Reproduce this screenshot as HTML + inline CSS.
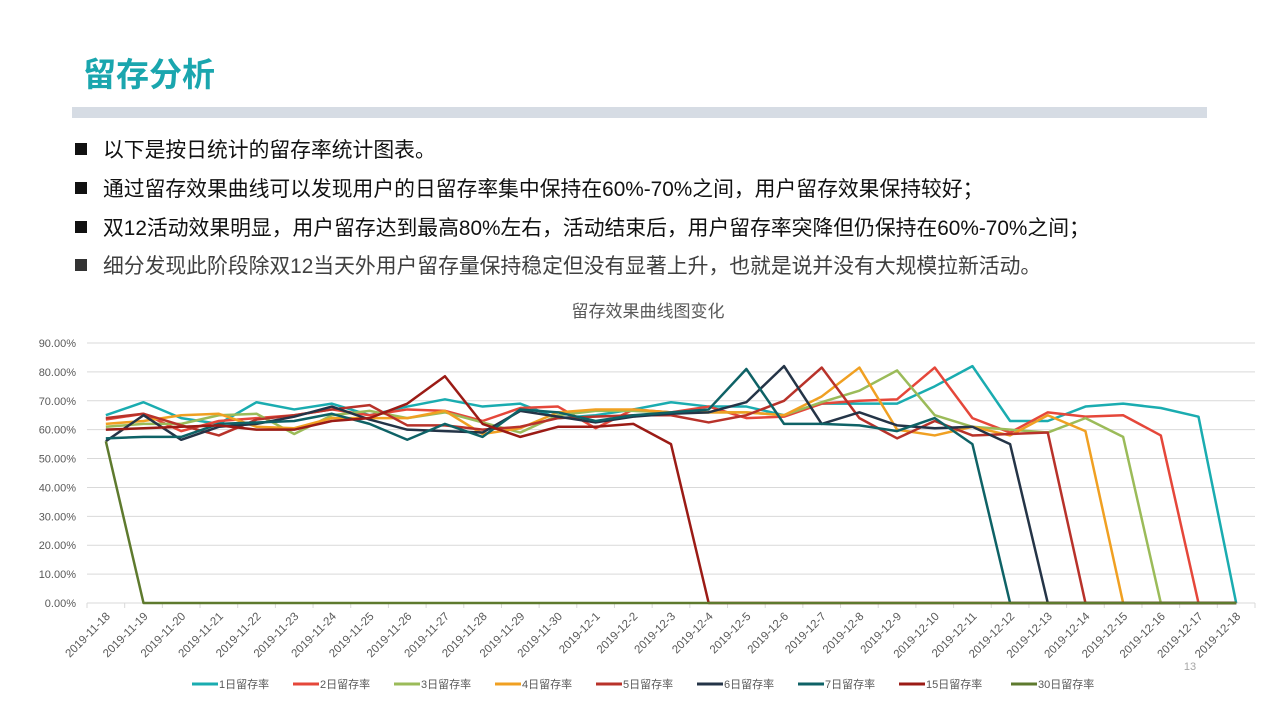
<!DOCTYPE html>
<html><head><meta charset="utf-8"><style>
body{margin:0;width:1280px;height:720px;background:#fff;font-family:"Liberation Sans","Noto Sans CJK SC",sans-serif;overflow:hidden;position:relative}
.t{position:absolute;left:83px;top:48px;font-size:33px;font-weight:bold;color:#1AA6AE}
.bar{position:absolute;left:72px;top:107px;width:1135px;height:11px;background:#D6DCE4}
.b{position:absolute;left:75px;font-size:20.8px;color:#111;white-space:nowrap}
.b span{display:inline-block;width:12px;height:12px;background:#111;margin-right:16px;vertical-align:2px}
</style></head><body>
<div class="t">留存分析</div>
<div class="bar"></div>
<div class="b" style="top:133px"><span></span>以下是按日统计的留存率统计图表。</div>
<div class="b" style="top:172px"><span></span>通过留存效果曲线可以发现用户的日留存率集中保持在60%-70%之间，用户留存效果保持较好；</div>
<div class="b" style="top:211px"><span></span>双12活动效果明显，用户留存达到最高80%左右，活动结束后，用户留存率突降但仍保持在60%-70%之间；</div>
<div class="b" style="top:249px;color:#404040"><span style="background:#333"></span>细分发现此阶段除双12当天外用户留存量保持稳定但没有显著上升，也就是说并没有大规模拉新活动。</div>
<svg id="c" width="1280" height="720" style="position:absolute;left:0;top:0"></svg>
<script>
const dates=["2019-11-18","2019-11-19","2019-11-20","2019-11-21","2019-11-22","2019-11-23","2019-11-24","2019-11-25","2019-11-26","2019-11-27","2019-11-28","2019-11-29","2019-11-30","2019-12-1","2019-12-2","2019-12-3","2019-12-4","2019-12-5","2019-12-6","2019-12-7","2019-12-8","2019-12-9","2019-12-10","2019-12-11","2019-12-12","2019-12-13","2019-12-14","2019-12-15","2019-12-16","2019-12-17","2019-12-18"];
const yTicks=[0,10,20,30,40,50,60,70,80,90];
const seriesNames=["1日留存率","2日留存率","3日留存率","4日留存率","5日留存率","6日留存率","7日留存率","15日留存率","30日留存率"];
const s1=[65,69.5,64,62,69.5,67,69,65,68,70.5,68,69,64,65,67,69.5,68,68,65,69,69,69,75,82,63,63,68,69,67.5,64.5,0];
const s2=[63.5,65.5,59.5,63,64,65,67,65,67,66.5,63,67.5,68,60.5,67,66,68,64,64.5,69,70,70.5,81.5,64,59,66,64.5,65,58,0,0];
const s3=[61,62,62,65,65.5,58.5,65,66.5,64,66,62.5,59,65,66.5,66.5,66,66,66,65,69.5,73.5,80.5,65,61,60,59,64,57.5,0,0,0];
const s4=[62,63,65,65.5,61,60.5,64,64,64,66.5,58.5,60.5,66,67,67,66,66,66,65,71.5,81.5,60,58,61,58,65,59.5,0,0,0,0];
const s5=[64,65.5,61.5,58,63.5,65,67,68.5,61.5,61.5,60,61,64,64.5,65,65,62.5,65,70,81.5,64,57,63,58,58.5,59,0,0,0,0,0];
const s6=[56,65,56.5,61,62,64.5,68,63.5,60,59.5,59,66.5,64.5,62.5,64.5,65.5,66,69.5,82,62,66,61.5,60.5,61,55,0,0,0,0,0,0];
const s7=[57,57.5,57.5,62,62.5,63,65.5,62,56.5,62,57.5,67,66,63,65,66,67,81,62,62,61.5,59.5,64,55,0,0,0,0,0,0,0];
const s15=[60,60.5,61,61.5,60,60,63,64,69,78.5,62,57.5,61,61,62,55,0,0,0,0,0,0,0,0,0,0,0,0,0,0,0];
const s30=[56,0,0,0,0,0,0,0,0,0,0,0,0,0,0,0,0,0,0,0,0,0,0,0,0,0,0,0,0,0,0];
const allSeries=[s1,s2,s3,s4,s5,s6,s7,s15,s30];
const colors=["#1AACB0","#E5473A","#9BBB59","#F0A022","#B8322A","#243447","#0E6266","#9B1B15","#5E7A2E"];
const NS="http://www.w3.org/2000/svg",svg=document.getElementById('c');
const x0=87,x1=1255,y0=603,yTop=343;
const step=(x1-x0)/dates.length;
const X=i=>x0+step*(i+0.5), Y=v=>y0-(v/90)*(y0-yTop);
function mk(t,a){const e=document.createElementNS(NS,t);for(const k in a)e.setAttribute(k,a[k]);svg.appendChild(e);return e;}
let tt=mk('text',{x:648,y:317,'text-anchor':'middle','font-size':17,fill:'#595959'});tt.textContent='留存效果曲线图变化';

yTicks.forEach(v=>{
 const l=mk('line',{x1:x0,x2:x1,y1:Y(v),y2:Y(v),stroke:'#D9D9D9','stroke-width':1});
 
 const t=mk('text',{x:76,y:Y(v)+4,'text-anchor':'end','font-size':11,fill:'#595959'});t.textContent=v.toFixed(2)+'%';
 
});
for(let i=0;i<=dates.length;i++){const l=mk('line',{x1:x0+step*i,x2:x0+step*i,y1:y0,y2:y0+5,stroke:'#D9D9D9'});}
dates.forEach((d,i)=>{
 const t=mk('text',{x:X(i)+5,y:y0+14,'text-anchor':'end','font-size':11.5,fill:'#595959',transform:`rotate(-45 ${X(i)+5} ${y0+14})`});t.textContent=d;
 
});
allSeries.forEach((s,k)=>{
 const p=mk('polyline',{points:s.map((v,i)=>X(i)+','+Y(v)).join(' '),fill:'none',stroke:colors[k],'stroke-width':2.5,'stroke-linejoin':'round'});
 
});
let lx=192;
seriesNames.forEach((n,k)=>{
 const l=mk('line',{x1:lx,x2:lx+26,y1:684,y2:684,stroke:colors[k],'stroke-width':3});
 
 const t=mk('text',{x:lx+27,y:688,'font-size':11,fill:'#595959'});t.textContent=n;
 
 lx+=26+n.length*11+20;
});
const pg=mk('text',{x:1190,y:670,'text-anchor':'middle','font-size':11,fill:'#A6A6A6'});pg.textContent='13';

</script>
</body></html>
